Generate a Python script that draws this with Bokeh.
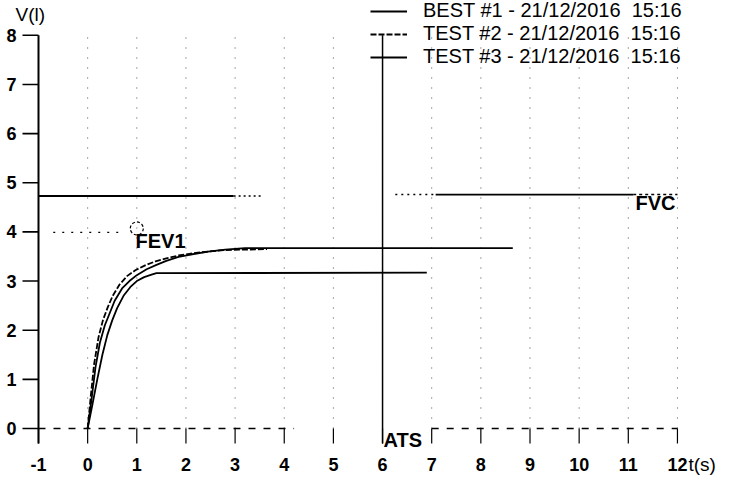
from bokeh.plotting import figure
from bokeh.models import Range1d, Legend, LegendItem
from bokeh.embed import file_html
from bokeh.resources import INLINE
from bokeh.core.properties import value

# ---- data ----
t_best = [0, 0.08, 0.16, 0.25, 0.35, 0.45, 0.55, 0.7, 0.85, 1.0, 1.2, 1.4, 1.6, 1.85, 2.1, 2.45, 2.8, 3.2, 8.65]
v_best = [0, 0.6, 1.25, 1.75, 2.1, 2.35, 2.6, 2.85, 3.0, 3.12, 3.24, 3.33, 3.41, 3.49, 3.54, 3.6, 3.64, 3.67, 3.67]

t_test2 = [0, 0.06, 0.13, 0.22, 0.31, 0.41, 0.51, 0.65, 0.8, 0.97, 1.17, 1.38, 1.6, 1.85, 2.1, 2.45, 2.8, 3.2, 3.65]
v_test2 = [0, 0.62, 1.3, 1.85, 2.2, 2.47, 2.7, 2.93, 3.1, 3.22, 3.32, 3.4, 3.46, 3.52, 3.56, 3.6, 3.63, 3.64, 3.65]

t_test3 = [0, 0.1, 0.2, 0.3, 0.4, 0.5, 0.6, 0.73, 0.87, 1.0, 1.15, 1.3, 1.4, 6.9]
v_test3 = [0, 0.5, 1.02, 1.5, 1.9, 2.2, 2.45, 2.7, 2.88, 3.0, 3.08, 3.13, 3.16, 3.17]

legend_labels = ["BEST #1 - 21/12/2016  15:16",
                 "TEST #2 - 21/12/2016  15:16",
                 "TEST #3 - 21/12/2016  15:16"]

x_ticks = list(range(-1, 13))
x_tick_labels = [str(t) for t in x_ticks]
y_ticks = list(range(0, 9))
y_tick_labels = [str(v) for v in y_ticks]
x_grid = list(range(0, 13))

# reference / predicted lines
fvc_left_solid_x = [-1, 2.97]
fvc_left_dot_x = [2.97, 3.58]
fvc_left_v = 4.73
fvc_right_dot1_x = [6.26, 7.08]
fvc_right_solid_x = [7.08, 11.1]
fvc_right_dot2_x = [11.1, 12.0]
fvc_right_v = 4.76
fev1_dot_x = [-0.7, 0.75]
fev1_dot_v = 3.99
fev1_mark_t = [1.0]
fev1_mark_v = [4.07]
ats_t = 6.0
zero_axis_segments = [[-1, 4.2], [7.0, 12.0]]

# axis geometry (data units)
X_MIN, X_MAX = -1, 12
Y_MIN, Y_MAX = 0, 8
Y_AXIS_BOTTOM = -0.305
Y_TICK_LEFT = -1.3255
X_LABEL_V = -0.73
Y_LABEL_T = -1.448

FONT = "Liberation Sans"

p = figure(width=739, height=479,
           x_range=Range1d(-1.7731, 13.2625), y_range=Range1d(-1.0376, 8.7080),
           x_axis_type=None, y_axis_type=None,
           output_backend="svg", toolbar_location=None,
           min_border=0)
p.outline_line_color = None
p.background_fill_color = "white"
p.border_fill_color = "white"

# dotted vertical grid
p.segment(x0=x_grid, y0=[Y_MIN] * len(x_grid), x1=x_grid, y1=[Y_MAX] * len(x_grid),
          line_color="black", line_alpha=0.7, line_width=1, line_dash="1 9")

# zero axis dashed line
for seg in zero_axis_segments:
    p.line(seg, [0, 0], line_color="black", line_width=1.3, line_dash="7 8")

# x ticks (hanging under the zero line)
p.segment(x0=x_ticks, y0=[0] * len(x_ticks), x1=x_ticks, y1=[Y_AXIS_BOTTOM] * len(x_ticks),
          line_color="black", line_width=1.2)
# y axis line and ticks
p.line([X_MIN, X_MIN], [Y_AXIS_BOTTOM, Y_MAX], line_color="black", line_width=2)
p.segment(x0=[Y_TICK_LEFT] * len(y_ticks), y0=y_ticks, x1=[X_MIN] * len(y_ticks), y1=y_ticks,
          line_color="black", line_width=1.6)

# tick labels
p.text(x=x_ticks, y=[X_LABEL_V] * len(x_ticks), text=x_tick_labels,
       text_font=value(FONT), text_font_size=value("18px"), text_font_style="bold",
       text_color="black", text_align="center", text_baseline="middle")
p.text(x=[Y_LABEL_T] * len(y_ticks), y=y_ticks, text=y_tick_labels,
       text_font=value(FONT), text_font_size=value("18px"), text_font_style="bold",
       text_color="black", text_align="right", text_baseline="middle")

# predicted FVC lines
p.line(fvc_left_solid_x, [fvc_left_v] * 2, line_color="black", line_width=1.8)
p.line(fvc_left_dot_x, [fvc_left_v] * 2, line_color="black", line_width=1.5, line_dash="2 3")
p.line(fvc_right_dot1_x, [fvc_right_v] * 2, line_color="black", line_width=1.5, line_dash="2 4")
p.line(fvc_right_solid_x, [fvc_right_v] * 2, line_color="black", line_width=1.8)
p.line(fvc_right_dot2_x, [fvc_right_v] * 2, line_color="black", line_width=1.5, line_dash="3 3")

# FEV1 marker
p.line(fev1_dot_x, [fev1_dot_v] * 2, line_color="black", line_width=1.2, line_dash="2 7")
p.scatter(fev1_mark_t, fev1_mark_v, size=13, marker="circle", fill_color=None,
          line_color="black", line_width=1.2, line_dash="3 2")

# ATS vertical line
p.line([ats_t, ats_t], [Y_AXIS_BOTTOM, Y_MAX], line_color="black", line_width=1.5)

# curves
r1 = p.line(t_best, v_best, line_color="black", line_width=1.8)
r2 = p.line(t_test2, v_test2, line_color="black", line_width=1.8, line_dash="6 2")
r3 = p.line(t_test3, v_test3, line_color="black", line_width=1.8)

# free texts
p.text(x=[-1.468, 12.225], y=[8.423, X_LABEL_V], text=["V(l)", "t(s)"],
       text_font=value(FONT), text_font_size=value("19px"), text_color="black",
       text_align="left", text_baseline="middle")
p.text(x=[0.974, 11.147, 6.019], y=[3.825, 4.578, -0.244], text=["FEV1", "FVC", "ATS"],
       text_font=value(FONT), text_font_size=value("20px"), text_font_style="bold",
       text_color="black", text_align="left", text_baseline="middle")

legend = Legend(items=[LegendItem(label=legend_labels[0], renderers=[r1]),
                       LegendItem(label=legend_labels[1], renderers=[r2]),
                       LegendItem(label=legend_labels[2], renderers=[r3])],
                location=(370, 411), orientation="vertical",
                glyph_width=37, glyph_height=22, label_height=22, spacing=0,
                padding=0, margin=0, label_standoff=16,
                border_line_color=None, background_fill_alpha=0,
                label_text_font=FONT, label_text_font_size="20px",
                label_text_color="black")
p.add_layout(legend)

open("out.html", "w").write(file_html(p, INLINE))
